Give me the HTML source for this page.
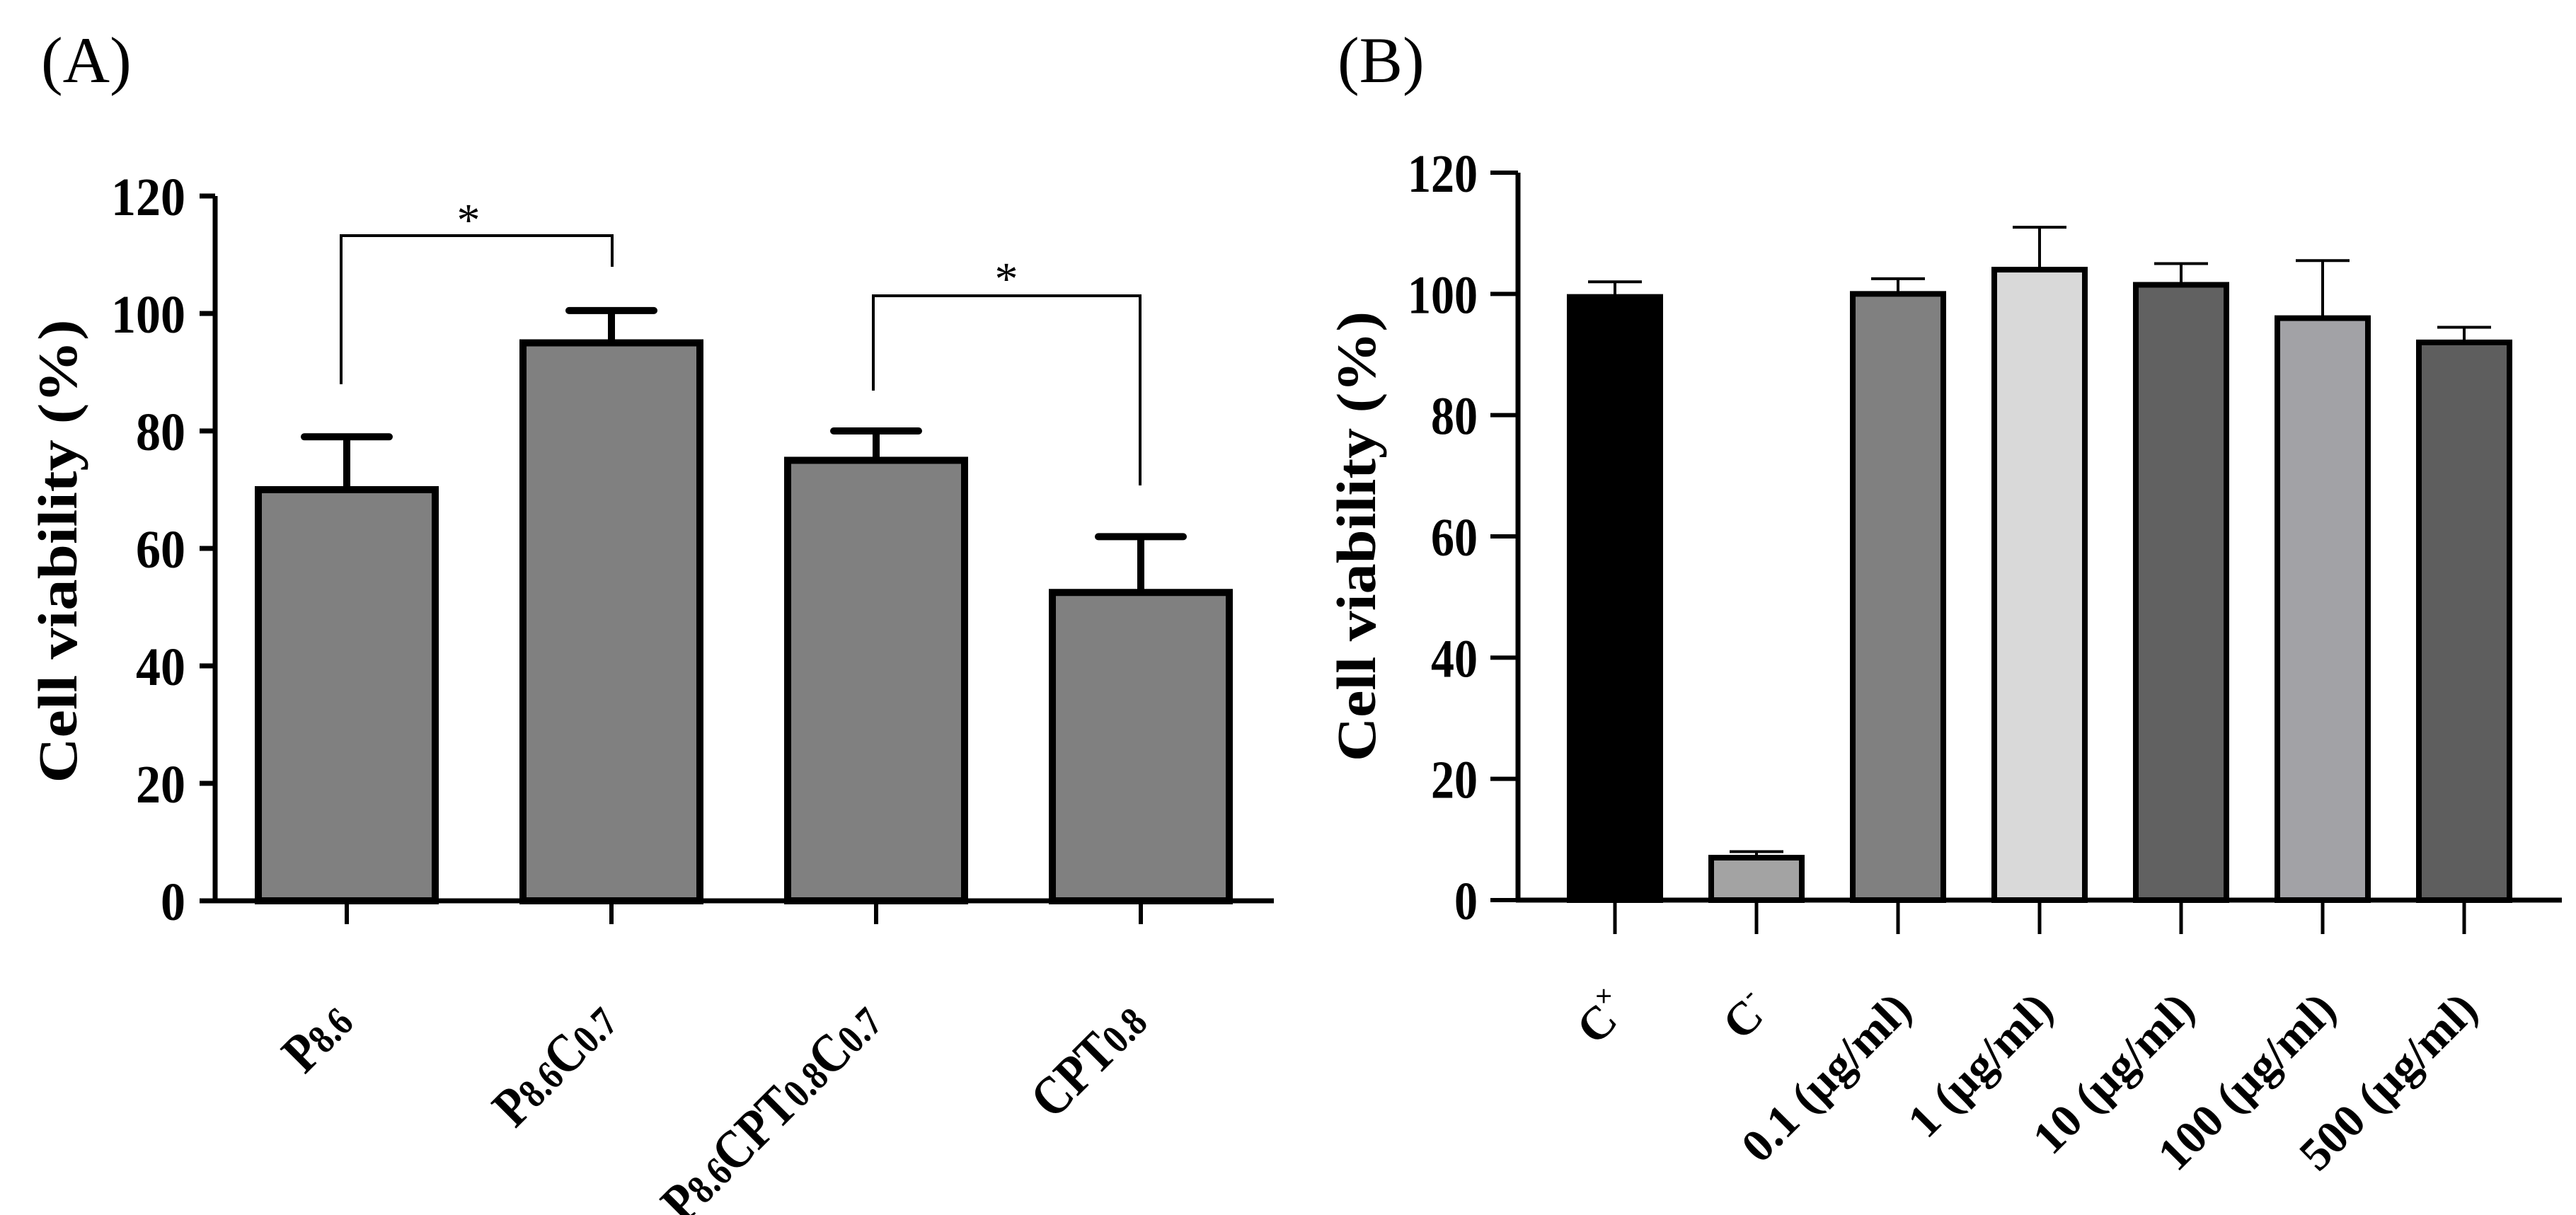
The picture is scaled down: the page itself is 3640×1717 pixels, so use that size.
<!DOCTYPE html>
<html><head><meta charset="utf-8"><style>
html,body{margin:0;padding:0;background:#fff;}
svg{display:block;font-family:"Liberation Serif",serif;}
</style></head><body>
<svg id="fig" width="3640" height="1717" viewBox="0 0 3640 1717" xmlns="http://www.w3.org/2000/svg">
<text x="58" y="116" font-size="92">(A)</text>
<text x="1890" y="116" font-size="92">(B)</text>
<g id="pa"></g>
<g id="pb"></g>
</svg>
<script>
const catsA = [["P","8.6"],["P","8.6","C","0.7"],["P","8.6","CPT","0.8","C","0.7"],["CPT","0.8"]];
const valsA = [70, 95, 75, 52.5];
const errA = [79, 100.5, 80, 62];
const ticksA = [0,20,40,60,80,100,120];
const catsB = ["C+","C-","0.1 (µg/ml)","1 (µg/ml)","10 (µg/ml)","100 (µg/ml)","500 (µg/ml)"];
const valsB = [99.5, 7, 100, 104, 101.5, 96, 92];
const errB = [102, 8, 102.5, 111, 105, 105.5, 94.5];
const colorsB = ["#000000","#a3a3a3","#808080","#d9d9d9","#616161","#a2a2a6","#5e5e5e"];
const ticksB = [0,20,40,60,80,100,120];

const NS="http://www.w3.org/2000/svg";
function mk(parent,tag,attrs){const e=document.createElementNS(NS,tag);for(const k in attrs)e.setAttribute(k,attrs[k]);parent.appendChild(e);return e;}

// Panel A
const A=document.getElementById('pa');
const A0=1273, A120=277;
const ayA=v=>A0-(v/120)*(A0-A120);
const axA=i=>490+i*374;
mk(A,'line',{x1:304,y1:A120,x2:304,y2:A0,stroke:'#000','stroke-width':7});
mk(A,'line',{x1:300,y1:A0,x2:1800,y2:A0,stroke:'#000','stroke-width':7});
ticksA.forEach(t=>{
  mk(A,'line',{x1:282,y1:ayA(t),x2:304,y2:ayA(t),stroke:'#000','stroke-width':7});
  const s=String(t);
  const tx=mk(A,'text',{x:262,y:ayA(t)+27,'font-size':76,'font-weight':'bold','text-anchor':'end',textLength:35*s.length,lengthAdjust:'spacingAndGlyphs'});
  tx.textContent=s;
  
  
});
const ytA=mk(A,'text',{x:0,y:0,'font-size':78,'font-weight':'bold','text-anchor':'middle',textLength:655,lengthAdjust:'spacingAndGlyphs',transform:'translate(108,779) rotate(-90)'});
ytA.textContent='Cell viability (%)';


valsA.forEach((v,i)=>{
  const cx=axA(i), w=250;
  mk(A,'line',{x1:cx,y1:ayA(v),x2:cx,y2:ayA(errA[i]),stroke:'#000','stroke-width':10});
  mk(A,'line',{x1:cx-60,y1:ayA(errA[i]),x2:cx+60,y2:ayA(errA[i]),stroke:'#000','stroke-width':10,'stroke-linecap':'round'});
  const r=mk(A,'rect',{x:cx-w/2,y:ayA(v),width:w,height:A0-ayA(v),fill:'#808080',stroke:'#000','stroke-width':10});
  
  
  mk(A,'line',{x1:cx,y1:A0,x2:cx,y2:A0+33,stroke:'#000','stroke-width':6});
  const tx=mk(A,'text',{x:0,y:0,'font-size':78,'font-weight':'bold','text-anchor':'end',transform:`translate(${cx+12},1448) rotate(-45) scale(0.84,1)`});
  const parts=catsA[i];
  parts.forEach((p,j)=>{const ts=mk(tx,'tspan',{});ts.textContent=p;if(j%2==1){ts.setAttribute('font-size',58);}});
  
  
});
// brackets
const br1=mk(A,'polyline',{points:`482,543 482,333 865,333 865,377`,fill:'none',stroke:'#000','stroke-width':4});


const s1=mk(A,'text',{x:662,y:333,'font-size':66,'text-anchor':'middle'});s1.textContent='*';


const br2=mk(A,'polyline',{points:`1234,552 1234,418 1611,418 1611,686`,fill:'none',stroke:'#000','stroke-width':4});


const s2=mk(A,'text',{x:1422,y:416,'font-size':66,'text-anchor':'middle'});s2.textContent='*';



// Panel B
const B=document.getElementById('pb');
const B0=1272, B120=244;
const ayB=v=>B0-(v/120)*(B0-B120);
const axB=i=>2282+i*200;
mk(B,'line',{x1:2145,y1:B120,x2:2145,y2:B0,stroke:'#000','stroke-width':7});
mk(B,'line',{x1:2142,y1:B0,x2:3620,y2:B0,stroke:'#000','stroke-width':7});
ticksB.forEach(t=>{
  mk(B,'line',{x1:2106,y1:ayB(t),x2:2145,y2:ayB(t),stroke:'#000','stroke-width':6});
  const s=String(t);
  const tx=mk(B,'text',{x:2088,y:ayB(t)+27,'font-size':76,'font-weight':'bold','text-anchor':'end',textLength:33*s.length,lengthAdjust:'spacingAndGlyphs'});
  tx.textContent=s;
  
  
});
const ytB=mk(B,'text',{x:0,y:0,'font-size':78,'font-weight':'bold','text-anchor':'middle',textLength:636,lengthAdjust:'spacingAndGlyphs',transform:'translate(1943,758) rotate(-90)'});
ytB.textContent='Cell viability (%)';


valsB.forEach((v,i)=>{
  const cx=axB(i), w=128;
  mk(B,'line',{x1:cx,y1:ayB(v),x2:cx,y2:ayB(errB[i]),stroke:'#000','stroke-width':4});
  mk(B,'line',{x1:cx-38,y1:ayB(errB[i]),x2:cx+38,y2:ayB(errB[i]),stroke:'#000','stroke-width':4});
  const r=mk(B,'rect',{x:cx-w/2,y:ayB(v),width:w,height:B0-ayB(v),fill:colorsB[i],stroke:'#000','stroke-width':8});
  
  
  mk(B,'line',{x1:cx,y1:B0,x2:cx,y2:B0+48,stroke:'#000','stroke-width':5});
  const tx=mk(B,'text',{x:0,y:0,'font-size':66,'font-weight':'bold','text-anchor':'end',transform:`translate(${cx+22},1430) rotate(-45)`});
  const lab=catsB[i];
  if(lab.length==2){const a=mk(tx,'tspan',{});a.textContent='C';const b=mk(tx,'tspan',{'font-size':38,dy:-30});b.textContent=lab[1]=='+'?'×':'-';}
  else tx.textContent=lab;
  
  
});
</script>
</body></html>
